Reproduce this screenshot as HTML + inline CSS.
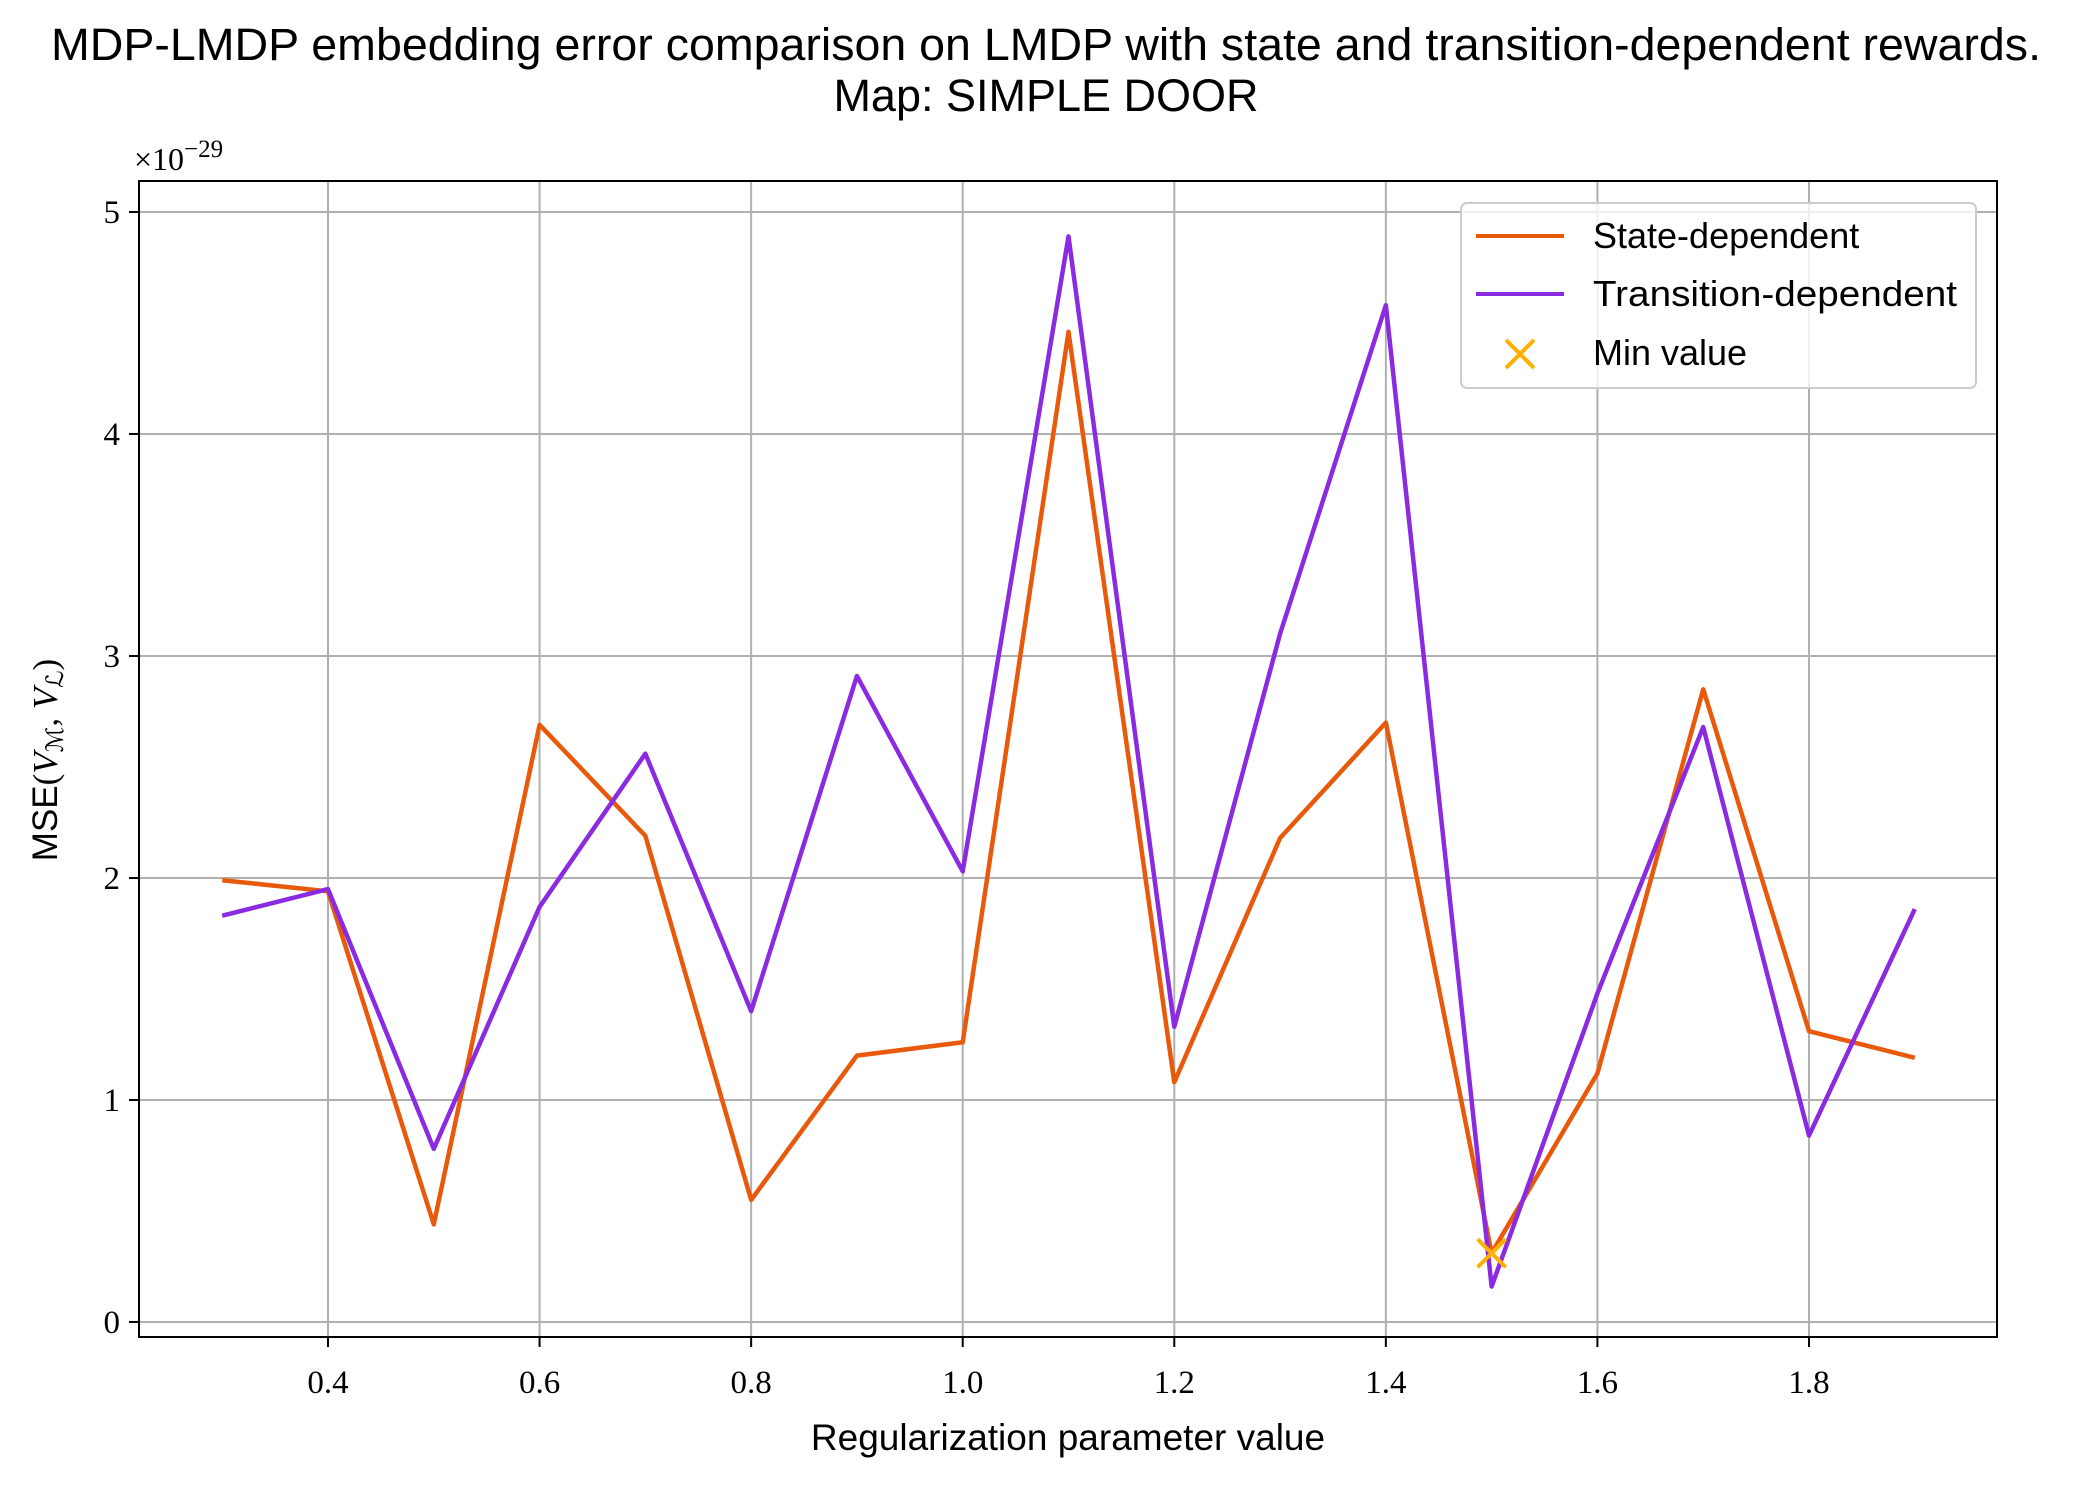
<!DOCTYPE html>
<html><head><meta charset="utf-8"><style>
body{margin:0;background:#fff;}
svg text{font-family:"Liberation Serif",serif;}
.sans{font-family:"Liberation Sans",sans-serif;}
</style></head><body>
<svg id="chart" width="2092" height="1487" xmlns="http://www.w3.org/2000/svg">
<rect width="2092" height="1487" fill="#fff"/>
<g id="grid"></g>
<g id="ticks"></g>
<g id="series"></g>
<rect x="139" y="181" width="1858" height="1156" fill="none" stroke="#000" stroke-width="2"/>
<text class="sans" x="1046" y="60" font-size="45" text-anchor="middle" textLength="1990" lengthAdjust="spacingAndGlyphs">MDP-LMDP embedding error comparison on LMDP with state and transition-dependent rewards.</text>
<text class="sans" x="1046" y="111" font-size="45" text-anchor="middle">Map: SIMPLE DOOR</text>
<text x="134" y="170" font-size="32">×10<tspan dy="-13" font-size="25">−29</tspan></text>
<text class="sans" x="1068" y="1450" font-size="37" text-anchor="middle">Regularization parameter value</text>
<text transform="translate(57,760) rotate(-90)" font-size="35" text-anchor="middle"><tspan class="sans">MSE</tspan>(<tspan font-style="italic">V</tspan><tspan font-size="24" dy="6">ℳ</tspan><tspan dy="-6">, </tspan><tspan font-style="italic">V</tspan><tspan font-size="24" dy="6">ℒ</tspan><tspan dy="-6">)</tspan></text>
<g>
<rect x="1461" y="203" width="515" height="185" rx="6" fill="#fff" fill-opacity="0.8" stroke="#ccc" stroke-width="2"/>
<line x1="1476" y1="236" x2="1564" y2="236" stroke="#e8590c" stroke-width="4"/>
<text class="sans" x="1593" y="248" font-size="36">State-dependent</text>
<line x1="1476" y1="294" x2="1564" y2="294" stroke="#8a2be2" stroke-width="4"/>
<text class="sans" x="1593" y="306" font-size="36" textLength="364" lengthAdjust="spacingAndGlyphs">Transition-dependent</text>
<path d="M1506 340 L1534 368 M1534 340 L1506 368" stroke="#ffb000" stroke-width="4"/>
<text class="sans" x="1593" y="365" font-size="36">Min value</text>
</g>
</svg>
<script>
const xs=[0.3,0.4,0.5,0.6,0.7,0.8,0.9,1.0,1.1,1.2,1.3,1.4,1.5,1.6,1.7,1.8,1.9];
const stateVals=[1.99,1.94,0.44,2.69,2.19,0.55,1.20,1.26,4.46,1.08,2.18,2.70,0.31,1.12,2.85,1.31,1.19];
const transVals=[1.83,1.95,0.78,1.87,2.56,1.40,2.91,2.03,4.89,1.33,3.10,4.58,0.16,1.48,2.68,0.84,1.86];
const minPoint=[1.5,0.31];
const xTicks=[0.4,0.6,0.8,1.0,1.2,1.4,1.6,1.8];
const yTicks=[0,1,2,3,4,5];
const ns="http://www.w3.org/2000/svg";
const X=v=>328+(v-0.4)*(1809-328)/1.4;
const Y=v=>1322-v*(1322-212)/5;
const grid=document.getElementById('grid'),ticks=document.getElementById('ticks'),ser=document.getElementById('series');
function mk(t,a,p){const e=document.createElementNS(ns,t);for(const k in a)e.setAttribute(k,a[k]);p.appendChild(e);return e;}
xTicks.forEach(t=>{
 const g=mk('line',{x1:X(t),x2:X(t),y1:181,y2:1337,stroke:'#b0b0b0','stroke-width':2},grid);
 
 mk('line',{x1:X(t),x2:X(t),y1:1337,y2:1347,stroke:'#000','stroke-width':2},ticks);
 const l=mk('text',{x:X(t),y:1393,'font-size':33,'text-anchor':'middle'},ticks);l.textContent=t.toFixed(1);
 
});
yTicks.forEach(t=>{
 const g=mk('line',{x1:139,x2:1997,y1:Y(t),y2:Y(t),stroke:'#b0b0b0','stroke-width':2},grid);
 
 mk('line',{x1:129,x2:139,y1:Y(t),y2:Y(t),stroke:'#000','stroke-width':2},ticks);
 const l=mk('text',{x:120,y:Y(t)+11,'font-size':33,'text-anchor':'end'},ticks);l.textContent=t;
 
});
function line(vals,c,n){const p=mk('polyline',{points:vals.map((v,i)=>X(xs[i])+','+Y(v)).join(' '),fill:'none',stroke:c,'stroke-width':4.5,'stroke-linejoin':'round'},ser);
 }
line(stateVals,'#e8590c','state-dependent-line');
line(transVals,'#8a2be2','transition-dependent-line');
const mx=X(minPoint[0]),my=Y(minPoint[1]);
const m=mk('path',{d:`M${mx-14} ${my-14} L${mx+14} ${my+14} M${mx+14} ${my-14} L${mx-14} ${my+14}`,stroke:'#ffb000','stroke-width':4},ser);

</script>
</body></html>
